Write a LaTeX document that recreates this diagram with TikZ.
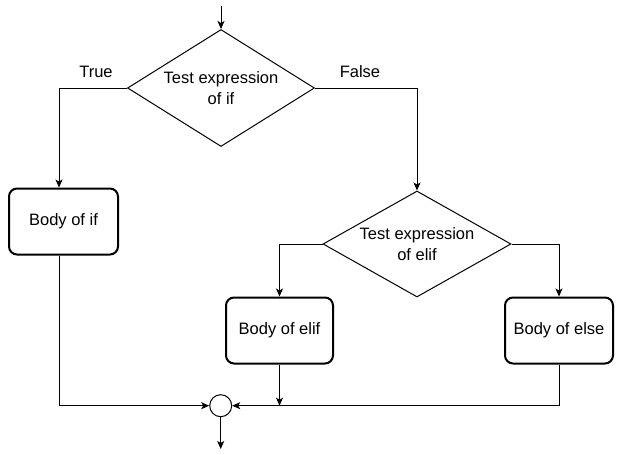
\documentclass[tikz,border=0pt]{standalone}
\usepackage{fontspec}
\setmainfont{Liberation Sans}
\usetikzlibrary{shapes.geometric,arrows.meta}
\begin{document}
\begin{tikzpicture}[x=1pt,y=-1pt,
  every node/.style={font=\fontsize{16.5}{21.5}\selectfont, text=black},
  decbox/.style={draw, line width=1pt, shape=diamond, inner sep=0pt, aspect=1.6, align=center},
  bodybox/.style={draw, line width=2pt, rounded corners=8pt, minimum width=#1, minimum height=66pt, inner sep=0pt, align=center},
  conn/.style={draw, line width=1pt, -{Stealth[length=8pt,width=7pt,inset=2pt]}},
  lbl/.style={inner sep=0pt}]
\useasboundingbox[fill=white] (0,0) rectangle (627,455);
% nodes
\node[decbox, minimum width=187pt, minimum height=117pt] (d1) at (221,88) {Test expression\\of if};
\node[decbox, minimum width=188pt, minimum height=106pt] (d2) at (417,244) {Test expression\\of elif};
\node[bodybox=109pt] (b1) at (63.5,221.5) {Body of if};
\node[bodybox=107pt] (b2) at (279.5,330.5) {Body of elif};
\node[bodybox=108pt] (b3) at (559,330.5) {Body of else};
\node[draw, line width=1pt, circle, minimum size=22pt, inner sep=0pt] (c) at (220.7,405.7) {};
\coordinate (top) at (221,6);
\coordinate (bot) at (220.7,449);
\node[lbl] (lt) at (96,72) {True};
\node[lbl] (lf) at (360,72) {False};
% connectors
\draw[conn] (top) -- (d1.north);
\draw[conn] (d1.west) -| ([xshift=-4.5pt]b1.north);
\draw[conn] (d1.east) -| (d2.north);
\draw[conn] (d2.west) -| (b2.north);
\draw[conn] (d2.east) -| (b3.north);
\draw[conn] ([xshift=-4.5pt]b1.south) |- (c.west);
\draw[conn] (b3.south) |- (c.east);
\draw[conn] (b2.south) -- (b2.south |- c.east);
\draw[conn] (c.south) -- (bot);
\end{tikzpicture}
\end{document}
